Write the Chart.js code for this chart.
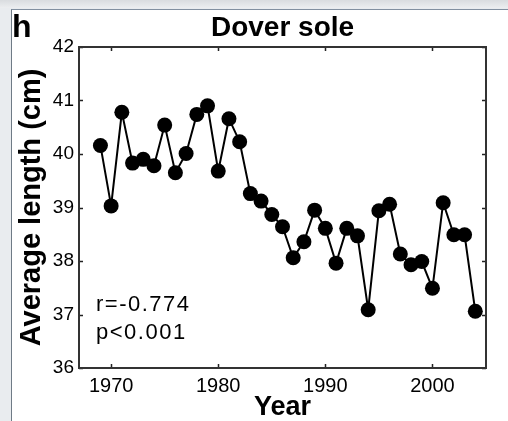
<!DOCTYPE html>
<html>
<head>
<meta charset="utf-8">
<script src="https://cdn.jsdelivr.net/npm/chart.js@4"></script>
<style>
  html, body { margin: 0; padding: 0; }
  body { width: 508px; height: 421px; overflow: hidden; position: relative;
         background: linear-gradient(#d9dcdf, #eceef0 8px, #e9ecef 8px); }
  .panel { position: absolute; left: 11px; top: 9px; right: 0; bottom: 0; background: #fff;
           border-left: 1px solid #6f7b86; border-top: 1px solid #8290a0; }
  #wrap { position: absolute; left: 0; top: 0; width: 508px; height: 421px; }
</style>
</head>
<body>
<div class="panel"></div>
<div id="wrap"><canvas id="chart" width="508" height="421"></canvas></div>
<script>
/* ---- data ---- */
const years = [1969, 1970, 1971, 1972, 1973, 1974, 1975, 1976, 1977, 1978, 1979, 1980,
               1981, 1982, 1983, 1984, 1985, 1986, 1987, 1988, 1989, 1990, 1991, 1992,
               1993, 1994, 1995, 1996, 1997, 1998, 1999, 2000, 2001, 2002, 2003, 2004];
const lengths = [40.16, 39.03, 40.78, 39.83, 39.90, 39.78, 40.54, 39.65, 40.01, 40.74, 40.90, 39.68,
                 40.66, 40.23, 39.26, 39.12, 38.87, 38.64, 38.06, 38.36, 38.95, 38.61, 37.96, 38.61,
                 38.47, 37.09, 38.94, 39.06, 38.13, 37.93, 37.99, 37.49, 39.09, 38.49, 38.49, 37.06];
const xTicks = [1970, 1980, 1990, 2000];
const yTicks = [36, 37, 38, 39, 40, 41, 42];
const panelLabel = 'h';
const chartTitle = 'Dover sole';
const statLines = ['r=-0.774', 'p<0.001'];

const FONT = '"Liberation Sans", Arial, Helvetica, sans-serif';
const INK = '#000';

// box, inward ticks and the text that is not an axis title
const frame = {
  id: 'frame',
  beforeDatasetsDraw(chart) {
    const { ctx, chartArea: a, scales: { x, y } } = chart;
    const t = 4;
    ctx.save();
    ctx.strokeStyle = '#222';
    ctx.lineWidth = 1.5;
    ctx.beginPath();
    xTicks.forEach(v => {
      const px = Math.round(x.getPixelForValue(v)) + 0.5;
      ctx.moveTo(px, a.bottom); ctx.lineTo(px, a.bottom - t);
      ctx.moveTo(px, a.top); ctx.lineTo(px, a.top + t);
    });
    yTicks.forEach(v => {
      const py = Math.round(y.getPixelForValue(v)) + 0.5;
      ctx.moveTo(a.left, py); ctx.lineTo(a.left + t, py);
      ctx.moveTo(a.right, py); ctx.lineTo(a.right - t, py);
    });
    ctx.stroke();
    ctx.restore();
  },
  afterDraw(chart) {
    const { ctx, chartArea: a } = chart;
    ctx.save();
    ctx.strokeStyle = '#333';
    ctx.lineWidth = 2;
    ctx.strokeRect(a.left, a.top, a.right - a.left, a.bottom - a.top);

    ctx.fillStyle = INK;
    ctx.textBaseline = 'alphabetic';
    ctx.font = 'bold 32px ' + FONT;
    ctx.textAlign = 'left';
    ctx.fillText(panelLabel, 12, 37);

    ctx.font = 'bold 28px ' + FONT;
    ctx.textAlign = 'center';
    ctx.fillText(chartTitle, (a.left + a.right) / 2, 36);

    ctx.font = '22px ' + FONT;
    ctx.letterSpacing = '1.5px';
    ctx.textAlign = 'left';
    ctx.textBaseline = 'middle';
    statLines.forEach((s, i) => ctx.fillText(s, 96, 305 + i * 28));
    ctx.restore();
  }
};

new Chart(document.getElementById('chart'), {
  type: 'line',
  data: {
    datasets: [{
      data: years.map((yr, i) => ({ x: yr, y: lengths[i] })),
      borderColor: INK,
      borderWidth: 2,
      backgroundColor: INK,
      pointBackgroundColor: INK,
      pointBorderWidth: 0,
      pointRadius: 7.5,
      tension: 0,
      fill: false,
      clip: false
    }]
  },
  options: {
    responsive: false,
    animation: false,
    layout: { padding: { left: 12, right: 22, top: 47, bottom: 0 } },
    plugins: { legend: { display: false }, tooltip: { enabled: false }, title: { display: false } },
    scales: {
      x: {
        type: 'linear',
        min: 1967,
        max: 2005,
        afterBuildTicks(scale) { scale.ticks = xTicks.map(v => ({ value: v })); },
        afterFit(scale) { scale.height = 53; },
        grid: { display: false, drawTicks: false },
        border: { display: false },
        ticks: { color: INK, padding: 6, maxRotation: 0, font: { family: FONT, size: 20 },
                 callback: v => String(v) },
        title: { display: true, text: 'Year', color: INK, padding: 0,
                 font: { family: FONT, size: 27, weight: 'bold', lineHeight: 1 } }
      },
      y: {
        min: 36,
        max: 42,
        afterBuildTicks(scale) { scale.ticks = yTicks.map(v => ({ value: v })); },
        afterFit(scale) { scale.width = 67; },
        grid: { display: false, drawTicks: false },
        border: { display: false },
        ticks: { color: INK, padding: 5, font: { family: FONT, size: 19 } },
        title: { display: true, text: 'Average length (cm)', color: INK, padding: { top: 3, bottom: 0 },
                 font: { family: FONT, size: 29, weight: 'bold' } }
      }
    }
  },
  plugins: [frame]
});
</script>
</body>
</html>
